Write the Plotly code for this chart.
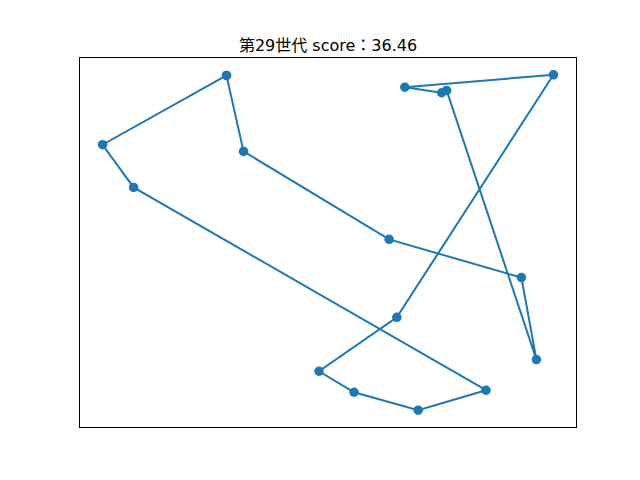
import plotly.graph_objects as go

# Tour order of the cities (arbitrary units), closed loop
city_x = [227.0, 103.3, 134.3, 486.0, 418.3, 354.3, 319.3, 397.0, 553.3, 405.0, 441.7, 446.7, 536.3, 521.3, 389.3, 244.0, 227.0]
city_y = [405.0, 335.7, 293.0, 90.0, 70.0, 88.0, 109.0, 163.0, 405.7, 393.3, 387.7, 390.0, 120.7, 202.7, 241.0, 329.0, 405.0]
title_text = "第29世代 score：36.46"

def padded(vals, frac=0.05):
    lo, hi = min(vals), max(vals)
    span = hi - lo
    return [lo - frac * span, hi + frac * span]

fig = go.Figure()
fig.add_trace(go.Scatter(
    x=city_x, y=city_y, mode="lines+markers",
    line=dict(color="#1f77b4", width=2),
    marker=dict(color="#1f77b4", size=9.5),
    showlegend=False,
))

axis_style = dict(showgrid=False, zeroline=False, showticklabels=False, ticks="",
                  showline=True, linecolor="black", linewidth=1, mirror=True)
fig.update_xaxes(range=padded(city_x), **axis_style)
fig.update_yaxes(range=padded(city_y), **axis_style)

fig.update_layout(
    width=640, height=480,
    margin=dict(l=80, r=64, t=57.6, b=52.8),
    paper_bgcolor="white", plot_bgcolor="white",
    font=dict(family="DejaVu Sans, Noto Sans CJK JP", color="black"),
    title=dict(text=title_text, x=0.5, xref="paper", xanchor="center",
               y=1, yref="paper", yanchor="bottom", pad=dict(b=7),
               font=dict(size=16, family="DejaVu Sans, Noto Sans CJK JP", color="black")),
)

fig.write_html("out.html")
